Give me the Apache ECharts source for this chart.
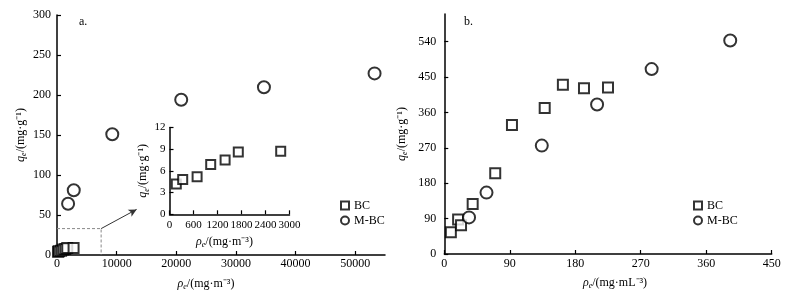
<!DOCTYPE html>
<html><head><meta charset="utf-8">
<script src="https://cdn.jsdelivr.net/npm/echarts@6/dist/echarts.min.js"></script>
<style>html,body{margin:0;padding:0;background:#fff}#c{width:787px;height:296px}</style>
</head><body><div id="c"></div>
<script>
// Panel a: main (mg·m-3 vs mg·g-1)
var bcA_x = [170, 330, 690, 1030, 1390, 1720, 2780];
var bcA_y = [4.2, 4.8, 5.2, 6.9, 7.5, 8.6, 8.7];
var mbcA_x = [1860, 2810, 9270, 20830, 34700, 53250];
var mbcA_y = [64, 81, 151, 194, 209.6, 227];
// zoom box + arrow (data coords on panel a)
var boxPts = [[0, 33], [7400, 33], [7400, 0]];
var arrowPts = [[7400, 33], [13350, 57]];
// Panel b
var bcB_x = [9, 19, 23, 39, 70, 93, 138, 163, 192, 225];
var bcB_y = [55, 88, 73, 127, 205, 328, 371, 430, 421.5, 423];
var mbcB_x = [34, 58, 134, 210, 285, 393];
var mbcB_y = [93, 156, 275.5, 380, 470, 542.6];
// Ticks
var aXTicks = {min: 0, max: 55000, interval: 10000};
var aYTicks = {min: 0, max: 300, interval: 50};
var insXTicks = {min: 0, max: 3000, interval: 600};
var insYTicks = {min: 0, max: 12, interval: 3};
var bXTicks = {min: 0, max: 450, interval: 90};
var bYTicks = {min: 0, max: 610, interval: 90};

function zip(a, b) { return a.map(function (v, i) { return [v, b[i]]; }); }

var FONT = 'Liberation Serif';
var rich = {
  i: {fontStyle: 'italic', fontFamily: FONT, fontSize: 12, color: '#000'},
  s: {fontStyle: 'italic', fontFamily: FONT, fontSize: 8, color: '#000', padding: [7, 0, 0, 0]},
  n: {fontFamily: FONT, fontSize: 12, color: '#000'}
};
function plain(v) { return String(v); }
function lab(size, margin, showMax) {
  return {color: '#000', fontFamily: FONT, fontSize: size, margin: margin, showMaxLabel: showMax, formatter: plain};
}
function ax(t, extra) {
  var o = {
    type: 'value', min: t.min, max: t.max, interval: t.interval,
    splitLine: {show: false},
    axisLine: {show: true, lineStyle: {color: '#000', width: 1.5}},
    axisTick: {show: true, inside: true, length: 4, lineStyle: {color: '#000', width: 1.2}},
    nameLocation: 'middle',
    nameTextStyle: {rich: rich}
  };
  for (var k in extra) o[k] = extra[k];
  return o;
}

var chart = echarts.init(document.getElementById('c'), null, {renderer: 'canvas'});
var sqStyle = {color: '#fff', borderColor: '#000', borderWidth: 2};
var ciStyle = {color: '#fff', borderColor: '#000', borderWidth: 2};

chart.setOption({
  animation: false,
  title: [
    {text: 'a.', left: 74, top: 11, textStyle: {fontFamily: FONT, fontSize: 12, fontWeight: 'normal', color: '#000'}},
    {text: 'b.', left: 459, top: 11, textStyle: {fontFamily: FONT, fontSize: 12, fontWeight: 'normal', color: '#000'}}
  ],
  legend: [
    {left: 335, top: 194, orient: 'vertical', itemWidth: 8, itemHeight: 8, itemGap: 2,
     textStyle: {fontFamily: FONT, fontSize: 12, color: '#000', lineHeight: 13},
     data: [{name: 'BC', icon: 'rect'}, {name: 'M-BC', icon: 'circle'}]},
    {left: 688, top: 194, orient: 'vertical', itemWidth: 8, itemHeight: 8, itemGap: 2,
     textStyle: {fontFamily: FONT, fontSize: 12, color: '#000', lineHeight: 13},
     data: [{name: 'BC', icon: 'rect'}, {name: 'M-BC', icon: 'circle'}]}
  ],
  grid: [
    {left: 57, top: 15, width: 328, height: 240},
    {left: 169.5, top: 127.5, width: 120, height: 86.8},
    {left: 444.3, top: 14, width: 327.4, height: 240}
  ],
  xAxis: [
    ax(aXTicks, {gridIndex: 0, name: '{i|ρ}{s|e}{n|/(mg·m⁻³)}', nameGap: 21,
      nameTextStyle: {rich: rich, padding: [0, 30, 0, 0]}, axisLabel: lab(12, 3, false)}),
    ax(insXTicks, {gridIndex: 1, name: '{i|ρ}{s|e}{n|/(mg·m⁻³)}', nameGap: 20,
      nameTextStyle: {rich: rich, padding: [0, 10, 0, 0]}, axisLabel: lab(11, 5, true)}),
    ax(bXTicks, {gridIndex: 2, name: '{i|ρ}{s|e}{n|/(mg·mL⁻³)}', nameGap: 21,
      nameTextStyle: {rich: rich, padding: [0, 0, 0, 14]}, axisLabel: lab(12, 4, true)})
  ],
  yAxis: [
    ax(aYTicks, {gridIndex: 0, name: '{i|q}{s|e}{n|/(mg·g⁻¹)}', nameGap: 29, axisLabel: lab(12, 6, true)}),
    ax(insYTicks, {gridIndex: 1, name: '{i|q}{s|e}{n|/(mg·g⁻¹)}', nameGap: 15, axisLabel: lab(11, 4, true)}),
    ax(bYTicks, {gridIndex: 2, name: '{i|q}{s|e}{n|/(mg·g⁻¹)}', nameGap: 35, axisLabel: lab(12, 8, false)})
  ],
  series: [
    {type: 'line', xAxisIndex: 0, yAxisIndex: 0, data: boxPts, symbol: 'none', silent: true,
     lineStyle: {color: '#888', width: 1, type: [3, 2]}, z: 1,
     markLine: {silent: true, symbol: ['none', 'arrow'], symbolSize: [6, 8], label: {show: false},
       lineStyle: {color: '#333', width: 1, type: 'solid'},
       data: [[{coord: arrowPts[0]}, {coord: arrowPts[1]}]]}},
    {name: 'BC', type: 'scatter', xAxisIndex: 0, yAxisIndex: 0, data: zip(bcA_x, bcA_y), symbol: 'rect', symbolSize: 10, itemStyle: sqStyle},
    {name: 'M-BC', type: 'scatter', xAxisIndex: 0, yAxisIndex: 0, data: zip(mbcA_x, mbcA_y), symbol: 'circle', symbolSize: 12, itemStyle: ciStyle},
    {name: 'BC', type: 'scatter', xAxisIndex: 1, yAxisIndex: 1, data: zip(bcA_x, bcA_y), symbol: 'rect', symbolSize: 9, itemStyle: sqStyle},
    {name: 'BC', type: 'scatter', xAxisIndex: 2, yAxisIndex: 2, data: zip(bcB_x, bcB_y), symbol: 'rect', symbolSize: 10, itemStyle: sqStyle},
    {name: 'M-BC', type: 'scatter', xAxisIndex: 2, yAxisIndex: 2, data: zip(mbcB_x, mbcB_y), symbol: 'circle', symbolSize: 12, itemStyle: ciStyle}
  ]
});
</script></body></html>
